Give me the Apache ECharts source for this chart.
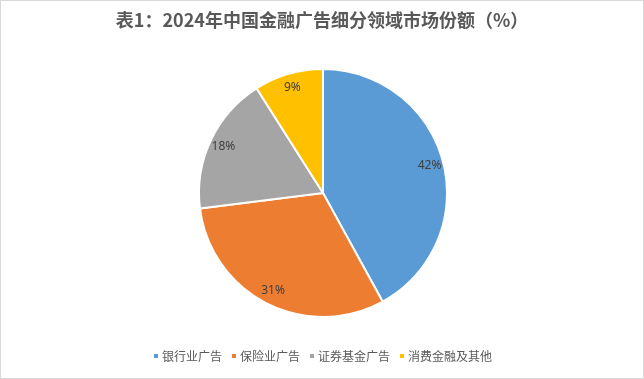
<!DOCTYPE html>
<html><head><meta charset="utf-8">
<script src="https://cdn.jsdelivr.net/npm/echarts@6/dist/echarts.min.js"></script>
<style>html,body{margin:0;padding:0;background:#fff}
#c{position:absolute;left:0;top:0;width:642px;height:377px;border:1px solid #d9d9d9}</style>
</head><body><div id="c"></div>
<script>
const categories = ['银行业广告','保险业广告','证券基金广告','消费金融及其他'];
const values = [42, 31, 18, 9];
const colors = ['#5B9BD5','#ED7D31','#A5A5A5','#FFC000'];
const titleText = '表1：2024年中国金融广告细分领域市场份额（%）';

const chart = echarts.init(document.getElementById('c'));
const data = categories.map((n,i)=>({name:n, value:values[i], itemStyle:{color:colors[i]}}));
chart.setOption({
  animation:false,
  title:{text:titleText,left:'center',top:5,textStyle:{fontFamily:'Noto Sans CJK SC',fontSize:18,fontWeight:'bold',color:'#595959'}},
  legend:{bottom:11,left:'center',itemWidth:6,itemHeight:6,itemGap:8,icon:'rect',
    textStyle:{fontFamily:'Noto Sans CJK SC',fontSize:12,color:'#595959',padding:[0,0,0,-2]},
    data:categories},
  series:[
    {type:'pie',center:[322,192],radius:[0,124],startAngle:90,clockwise:true,
     itemStyle:{borderColor:'#fff',borderWidth:2},label:{show:false},labelLine:{show:false},
     silent:true,data:data},
    {type:'pie',center:[322,192],radius:[90,124],startAngle:90,clockwise:true,
     itemStyle:{color:'transparent',borderWidth:0},silent:true,legendHoverLink:false,
     label:{show:true,position:'inside',formatter:p=>p.value+'%',fontFamily:'Noto Sans',fontSize:12,color:'#404040'},
     labelLine:{show:false},
     data:categories.map((n,i)=>({name:n+' ',value:values[i]}))}
  ]
});
</script></body></html>
